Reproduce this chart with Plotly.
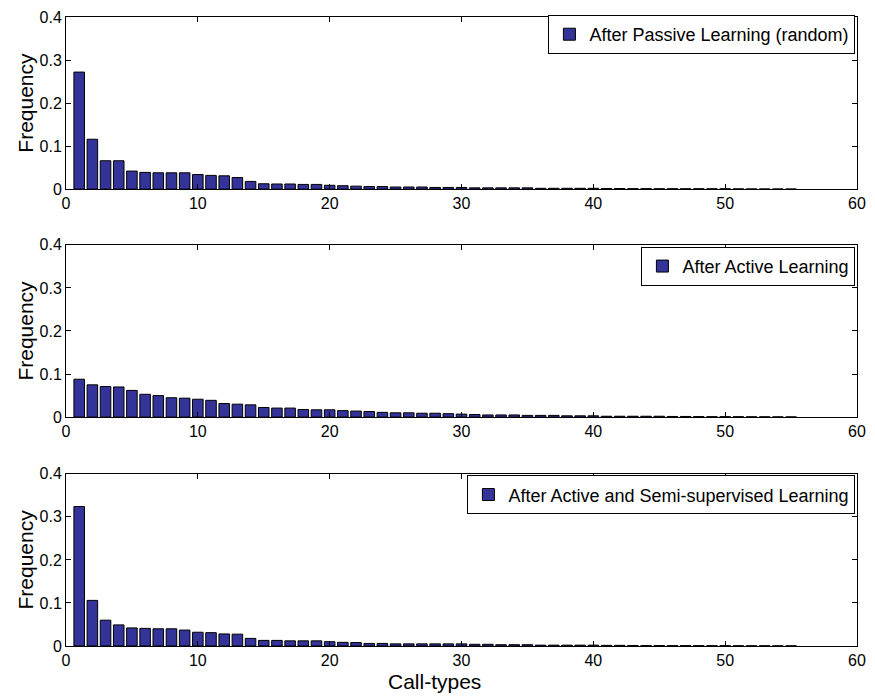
import plotly.graph_objects as go

call_types = list(range(1, 56))

passive = [0.272, 0.116, 0.066, 0.066, 0.042, 0.039, 0.038, 0.038, 0.038, 0.034,
           0.032, 0.031, 0.027, 0.018, 0.0125, 0.012, 0.012, 0.011, 0.011, 0.009,
           0.008, 0.007, 0.006, 0.006, 0.005, 0.005, 0.005, 0.004, 0.004, 0.004,
           0.003, 0.003, 0.003, 0.003, 0.003, 0.002, 0.002, 0.002, 0.002, 0.002,
           0.0015, 0.0015, 0.0012, 0.0012, 0.001, 0.001, 0.001, 0.001, 0.0008, 0.0008,
           0.0007, 0.0006, 0.0005, 0.0005, 0.0004]

active = [0.088, 0.075, 0.071, 0.070, 0.062, 0.053, 0.050, 0.045, 0.044, 0.0415,
          0.039, 0.0315, 0.030, 0.0285, 0.0223, 0.021, 0.021, 0.0177, 0.017, 0.017,
          0.015, 0.014, 0.013, 0.011, 0.010, 0.010, 0.009, 0.009, 0.008, 0.007,
          0.006, 0.005, 0.005, 0.005, 0.004, 0.004, 0.004, 0.003, 0.003, 0.003,
          0.002, 0.002, 0.002, 0.002, 0.002, 0.0015, 0.0015, 0.0012, 0.001, 0.001,
          0.001, 0.0008, 0.0007, 0.0006, 0.0005]

active_semi = [0.324, 0.106, 0.060, 0.049, 0.042, 0.041, 0.040, 0.040, 0.037, 0.032,
               0.031, 0.028, 0.0275, 0.0177, 0.013, 0.013, 0.012, 0.012, 0.012, 0.010,
               0.0085, 0.008, 0.006, 0.006, 0.005, 0.005, 0.005, 0.005, 0.005, 0.005,
               0.004, 0.004, 0.003, 0.003, 0.003, 0.002, 0.002, 0.002, 0.002, 0.002,
               0.0015, 0.0015, 0.0012, 0.001, 0.001, 0.001, 0.001, 0.0008, 0.0008, 0.0007,
               0.0006, 0.0005, 0.0005, 0.0004, 0.0004]

series = [
    ("After Passive Learning (random)", passive),
    ("After Active Learning", active),
    ("After Active and Semi-supervised Learning", active_semi),
]

x_ticks = [0, 10, 20, 30, 40, 50, 60]
y_ticks = [0, 0.1, 0.2, 0.3, 0.4]

BAR_COLOR = "#333399"
FONT = "Liberation Sans, Arial, Helvetica, sans-serif"

domains = [(0.7263, 1.0), (0.3639, 0.6377), (0.0, 0.2737)]
legend_gap_px = [-2, 2, 1.5]
PLOT_H = 632.0

fig = go.Figure()
layout = dict(
    width=875, height=699,
    margin=dict(l=66, r=9, t=14, b=53),
    paper_bgcolor="white", plot_bgcolor="white",
    font=dict(family=FONT, size=16, color="black"),
    bargap=0.2,
    showlegend=True,
)

for i, (name, vals) in enumerate(series):
    suffix = "" if i == 0 else str(i + 1)
    legend_name = "legend" + suffix
    fig.add_trace(go.Bar(
        x=call_types, y=vals, name=name,
        xaxis="x" + suffix, yaxis="y" + suffix,
        marker=dict(color=BAR_COLOR, line=dict(color="black", width=1)),
        width=0.8,
        legend=legend_name,
    ))
    ax = dict(
        range=[0, 60], tickvals=x_ticks, ticktext=[str(t) for t in x_ticks],
        ticks="inside", ticklen=5, tickcolor="black", tickwidth=1,
        showline=True, linecolor="black", linewidth=1, mirror="ticks",
        showgrid=False, zeroline=False,
        anchor="y" + suffix,
        tickfont=dict(size=16),
    )
    ay = dict(
        range=[0, 0.4], tickvals=y_ticks, ticktext=["0", "0.1", "0.2", "0.3", "0.4"],
        ticks="inside", ticklen=5, tickcolor="black", tickwidth=1,
        showline=True, linecolor="black", linewidth=1, mirror="ticks",
        showgrid=False, zeroline=False,
        domain=list(domains[i]), anchor="x" + suffix,
        title=dict(text="Frequency", font=dict(size=21), standoff=0),
        tickfont=dict(size=16),
    )
    layout["xaxis" + suffix] = ax
    layout["yaxis" + suffix] = ay
    layout[legend_name] = dict(
        x=0.998, y=domains[i][1] - legend_gap_px[i] / PLOT_H,
        xanchor="right", yanchor="top",
        xref="paper", yref="paper",
        bordercolor="black", borderwidth=1, bgcolor="white",
        font=dict(size=18),
        itemwidth=30,
        tracegroupgap=0,
    )

layout["annotations"] = [dict(
    text="Call-types", x=0.466, y=-0.056, xref="paper", yref="paper",
    xanchor="center", yanchor="middle", showarrow=False,
    font=dict(size=21),
)]

fig.update_layout(**layout)
fig.write_html("out.html")
